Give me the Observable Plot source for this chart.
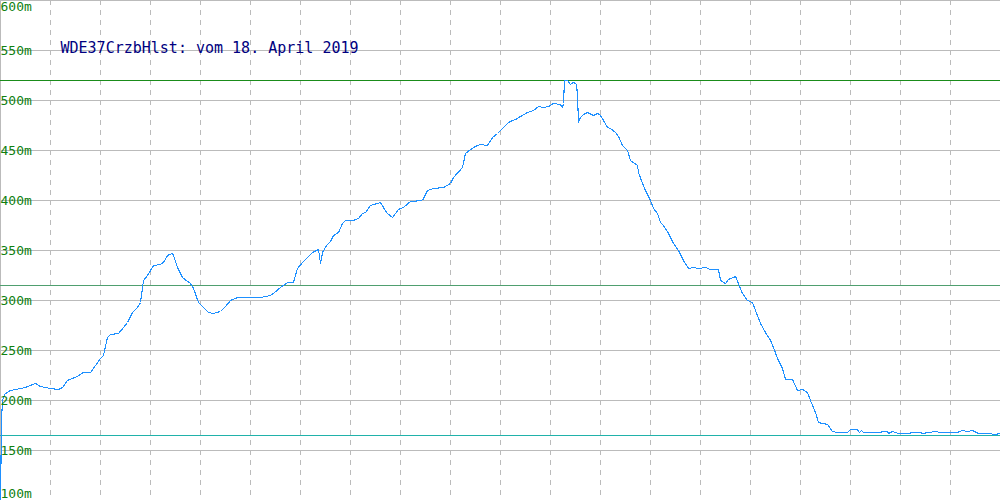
<!DOCTYPE html>
<html>
<head>
<meta charset="utf-8">
<script src="https://cdn.jsdelivr.net/npm/d3@7"></script>
<script src="https://cdn.jsdelivr.net/npm/@observablehq/plot@0.6"></script>
<style>
  html, body { margin: 0; padding: 0; background: #fff; }
  svg { display: block; }
</style>
</head>
<body>
<div id="chart"></div>
<script>
const titleText = "WDE37CrzbHlst: vom 18. April 2019";
const yTicks = [100, 150, 200, 250, 300, 350, 400, 450, 500, 550, 600];
const xGrid = [50, 100, 150, 200, 250, 300, 350, 400, 450, 500, 550, 600, 650, 700, 750, 800, 850, 900, 950];
const maxLine = [520];
const midLine = [315];
const minLine = [165];

const distance = [0,1,2,4,10,25,35,40,50,58,62,67,77,83,90,95,100,103,107,110,118,123,127,132,137,140,143,147,153,160,163,167,172,173,177,182,187,190,193,198,203,208,213,220,225,230,237,250,260,270,273,280,287,293,297,302,307,312,318,320,322,326,330,333,338,342,345,353,358,362,365,370,377,380,383,387,392,395,398,403,410,422,427,433,443,450,453,462,465,470,475,480,487,492,497,502,507,510,515,520,527,533,538,543,548,553,560,562,563,564,567,570,573,576,577,578,580,583,587,593,597,600,603,607,610,615,618,622,627,630,637,638,642,645,650,653,657,660,663,668,673,678,683,688,693,698,705,710,718,720,725,728,735,738,742,747,752,755,760,765,770,773,777,782,785,792,797,802,807,810,815,818,827,832,837,847,850,857,859,861,863,875,887,888,892,898,907,913,920,922,928,935,940,957,962,967,972,978,988,995,999];
const elevation = [100,180,200,206,210,213,217,214,212,211,213,220,224,228,228,235,242,245,263,266,267,273,278,288,293,298,320,325,335,336,338,345,347,345,333,323,319,317,312,298,293,288,287,289,294,300,303,303,303,305,307,313,318,318,332,338,343,348,351,337,348,355,359,365,368,377,380,380,382,387,388,395,397,398,393,387,383,387,391,393,399,400,410,412,413,417,423,433,447,451,454,456,455,463,467,472,477,479,481,484,488,490,494,493,494,497,496,493,497,520,520,516,518,516,505,478,483,486,488,485,487,485,480,473,472,468,464,455,450,440,435,428,417,410,400,392,387,378,375,367,357,350,340,332,333,332,333,331,331,320,317,321,324,317,307,300,298,290,277,268,260,253,242,232,221,221,210,211,208,200,188,178,176,169,168,168,171,171,168,170,168,168,169,167,169,167,167,168,168,167,168,169,168,168,170,169,170,167,167,166,167];

const profile = distance.map((d, i) => ({d, e: elevation[i]}));

const font = "'DejaVu Sans Mono', monospace";

const chart = Plot.plot({
  width: 1000,
  height: 500,
  margin: 0,
  style: {background: "#fff", fontFamily: font},
  x: {domain: [0, 1000], range: [0, 1000], axis: null},
  y: {domain: [100, 600], range: [500, 0], axis: null},
  marks: [
    Plot.ruleY(yTicks, {stroke: "#bbbbbb", strokeWidth: 1}),
    Plot.ruleX(xGrid, {stroke: "#bbbbbb", strokeWidth: 1, strokeDasharray: "5,5"}),
    Plot.frame({stroke: "#bbbbbb"}),
    Plot.ruleY(maxLine, {stroke: "#1a8c1a", strokeWidth: 1}),
    Plot.ruleY(midLine, {stroke: "#4f9f6f", strokeWidth: 1}),
    Plot.ruleY(minLine, {stroke: "#20b2aa", strokeWidth: 1}),
    Plot.line(profile, {x: "d", y: "e", stroke: "#1e90ff", strokeWidth: 1.1, shapeRendering: "crispEdges"}),
    Plot.text(yTicks.filter(t => t > 100 && t < 600), {y: d => d, text: d => d + "m", frameAnchor: "left", textAnchor: "start", dx: 0, fill: "#108010", fontSize: 13, fontFamily: font}),
    Plot.text(yTicks.filter(t => t === 600), {y: d => d, text: d => d + "m", frameAnchor: "left", textAnchor: "start", lineAnchor: "top", dy: 1, fill: "#108010", fontSize: 13, fontFamily: font}),
    Plot.text(yTicks.filter(t => t === 100), {y: d => d, text: d => d + "m", frameAnchor: "left", textAnchor: "start", lineAnchor: "bottom", dy: -3, fill: "#108010", fontSize: 13, fontFamily: font}),
    Plot.text([titleText], {text: d => d, frameAnchor: "top-left", textAnchor: "start", lineAnchor: "middle", dx: 60, dy: 48, fill: "#000080", fontSize: 15, fontWeight: 500, fontFamily: font})
  ]
});
document.getElementById("chart").appendChild(chart);
</script>
</body>
</html>
